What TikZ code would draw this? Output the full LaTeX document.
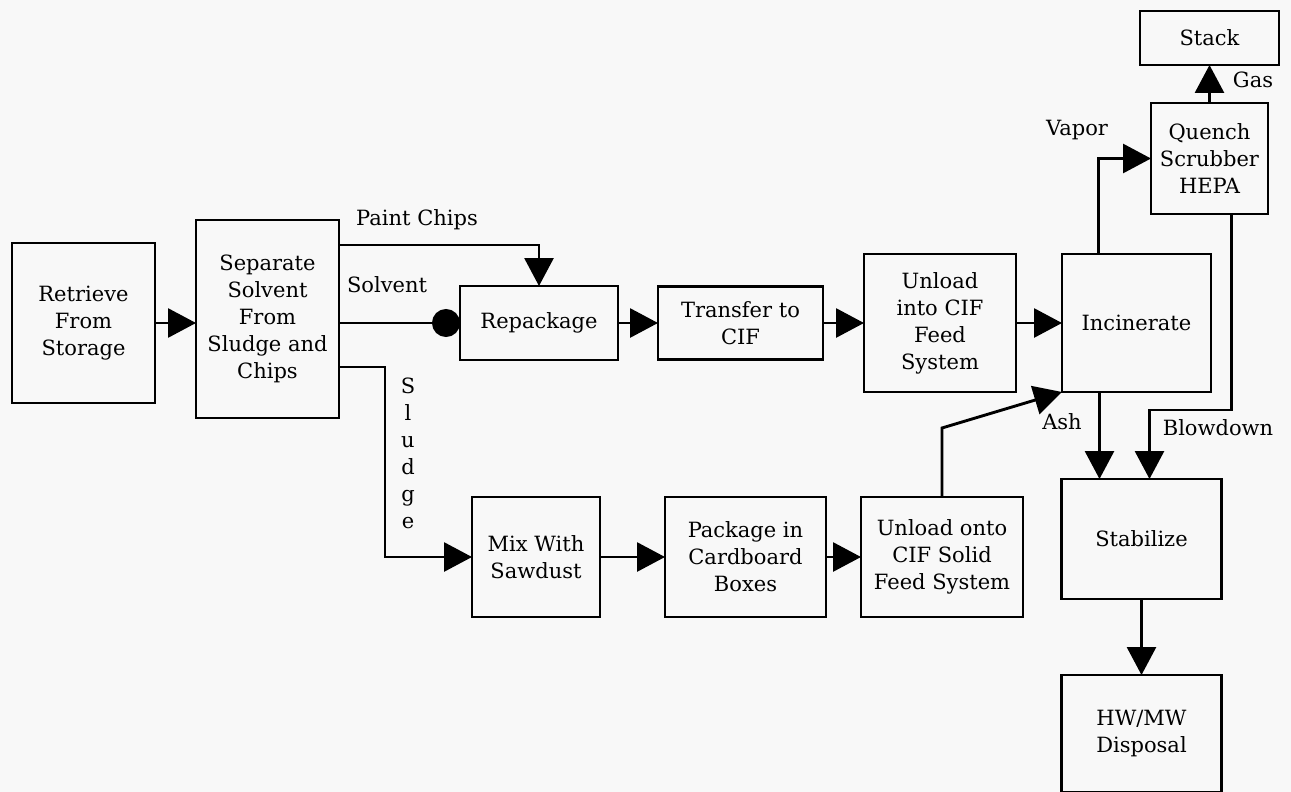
\documentclass[tikz,border=0pt]{standalone}
\usepackage{fontspec}
\setmainfont{DejaVu Serif}
\usepackage{tikz}
\usetikzlibrary{arrows.meta,positioning}
\definecolor{paper}{RGB}{248,248,248}

\begin{document}
\begin{tikzpicture}[
  font=\fontsize{21}{27}\selectfont,
  box/.style={draw=black, line width=2.9pt, align=center, inner sep=1pt, outer sep=0pt},
  lbl/.style={inner sep=0pt, align=center},
  arr/.style={-{Triangle[length=28pt,width=29pt]}, line width=2.9pt},
  dotarr/.style={-{Circle[length=28pt]}, line width=2.9pt}
]
\fill[paper] (0,0) rectangle (1291pt,-792pt);
\useasboundingbox (0,0) rectangle (1291pt,-792pt);
% --- liquid line (top) ---
\node[box, minimum width=143pt, minimum height=160pt] (ret) at (83.5pt,-323pt) {Retrieve\\ From\\ Storage};
\node[box, minimum width=143pt, minimum height=198pt, right=41pt of ret, yshift=4pt] (sep) {Separate\\ Solvent\\ From\\ Sludge and\\ Chips};
\node[box, minimum width=158pt, minimum height=74pt, right=121pt of ret.east -| sep.east] (rep) {Repackage};
\node[box, minimum width=165pt, minimum height=73pt, right=40pt of rep] (tra) {Transfer to\\ CIF};
\node[box, minimum width=152pt, minimum height=138pt, right=41pt of tra] (uin) {Unload\\ into CIF\\ Feed\\ System};
\node[box, minimum width=149pt, minimum height=138pt, right=46pt of uin] (inc) {Incinerate};
% --- off-gas ---
\node[box, minimum width=117pt, minimum height=111pt, above=40pt of inc, xshift=73pt] (que) {Quench\\ Scrubber\\ HEPA};
\node[box, minimum width=139pt, minimum height=54pt, above=38pt of que] (stk) {Stack};
% --- solids line (bottom) ---
\node[box, minimum width=128pt, minimum height=120pt, below=137pt of rep, xshift=-3pt] (mix) {Mix With\\ Sawdust};
\node[box, minimum width=161pt, minimum height=120pt, right=65pt of mix] (pkg) {Package in\\ Cardboard\\ Boxes};
\node[box, minimum width=162pt, minimum height=120pt, right=35pt of pkg] (uon) {Unload onto\\ CIF Solid\\ Feed System};
% --- residues ---
\node[box, minimum width=160pt, minimum height=120pt, below=87pt of inc, xshift=5pt] (stb) {Stabilize};
\node[box, minimum width=160pt, minimum height=117pt, below=76pt of stb] (dis) {HW/MW\\ Disposal};
% --- stream labels ---
\node[lbl] (lpaint) at (417pt,-220pt) {Paint Chips};
\node[lbl] (lsolv) at (387pt,-285pt) {Solvent};
\node[lbl] (lsludge) at (408pt,-453pt) {S\\ l\\ u\\ d\\ g\\ e};
\node[lbl] (lvap) at (1077pt,-130pt) {Vapor};
\node[lbl] (lgas) at (1253pt,-80pt) {Gas};
\node[lbl] (lash) at (1062pt,-422pt) {Ash};
\node[lbl] (lblow) at (1218pt,-428pt) {Blowdown};
% --- arrows ---
\draw[arr] (ret.east) -- (ret.east -| sep.west);
\draw[arr] ([yshift=-25pt]sep.north east) -| (rep);
\draw[dotarr] (rep.west -| sep.east) -- (rep.west);
\draw[arr] ([yshift=-48pt]sep.east) -| ([xshift=-87pt]mix.west) -- (mix.west);
\draw[arr] (rep) -- (tra);
\draw[arr] (tra) -- (uin);
\draw[arr] (uin) -- (inc);
\draw[arr] (mix) -- (pkg);
\draw[arr] (pkg) -- (uon);
\draw[arr] (uon.north) -- ++(0,69pt) -- (inc.south west);
\draw[arr] ([xshift=-38pt]inc.north) |- (que.west);
\draw[arr] (que) -- (stk);
\draw[arr] ([xshift=-37pt]inc.south) -- ([xshift=-37pt]inc.south |- stb.north);
\draw[arr] ([xshift=22pt]que.south) -- ++(0,-196pt) -| ([xshift=8pt]stb.north);
\draw[arr] (stb) -- (dis);
\end{tikzpicture}
\end{document}
